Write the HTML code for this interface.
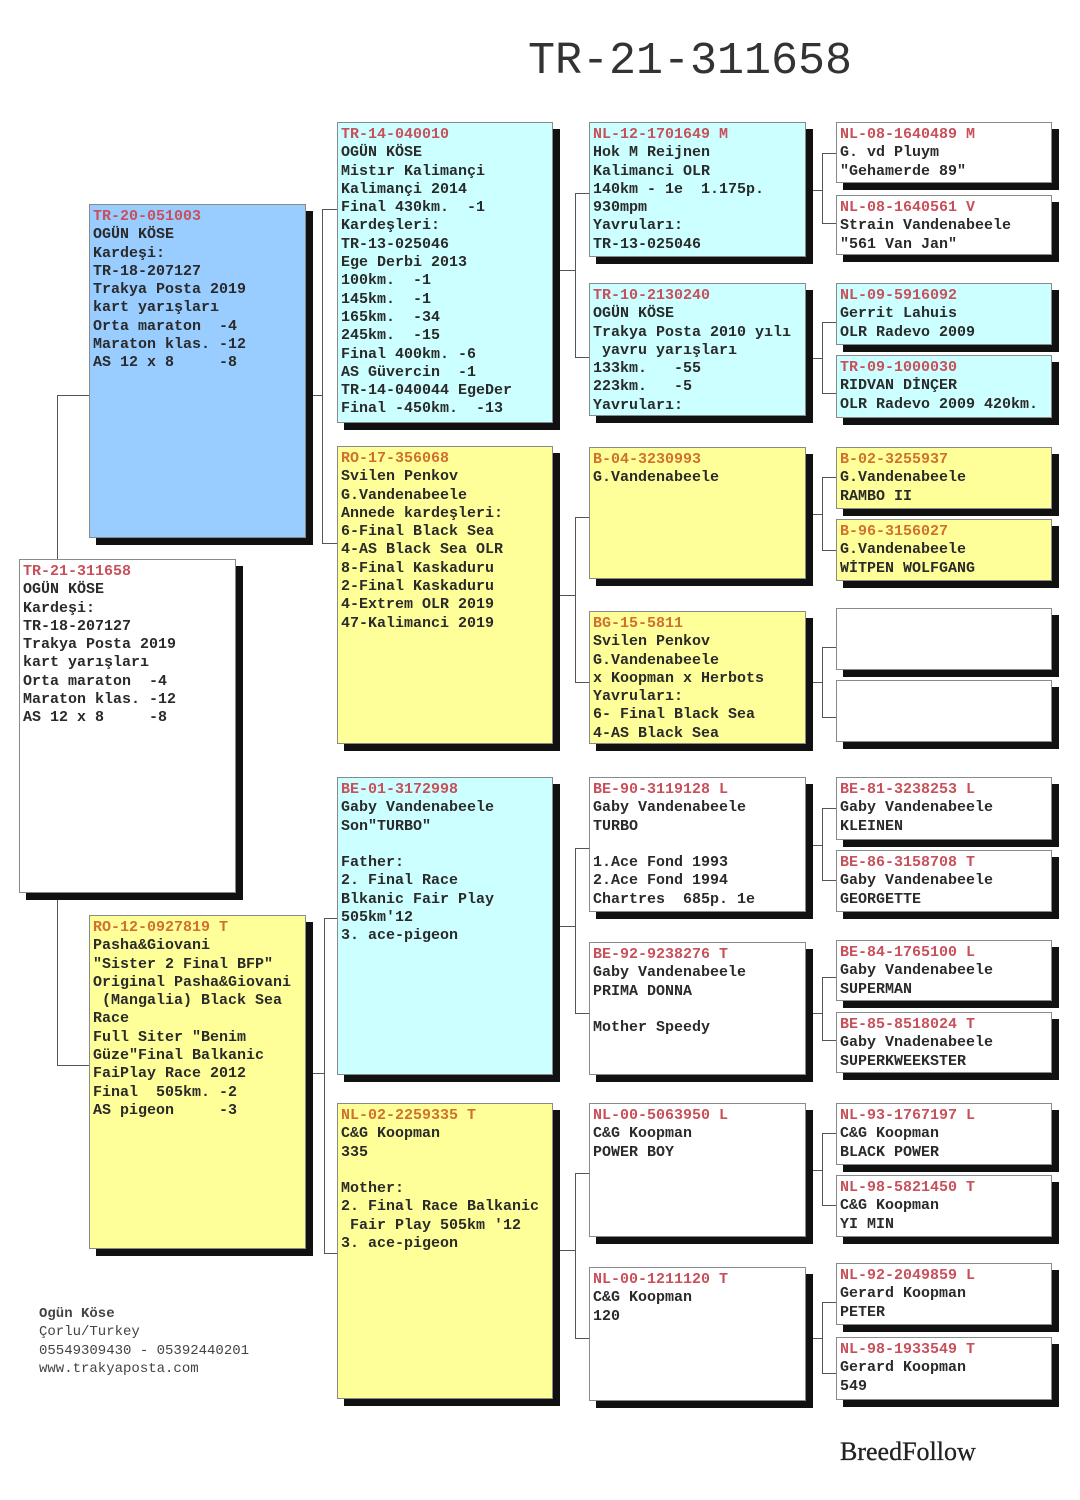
<!DOCTYPE html>
<html><head><meta charset="utf-8">
<style>
html,body{margin:0;padding:0;background:#fff;}
body{width:1080px;height:1500px;position:relative;overflow:hidden;font-family:"Liberation Mono",monospace;}
.b{position:absolute;box-sizing:border-box;border:1px solid #8a8a8a;box-shadow:7px 7px 0 #111;padding:3px 3px;font-size:15px;line-height:18.3px;color:#2a2a2a;white-space:pre;overflow:hidden;font-weight:bold;}
.b span{color:#c8505a;}
.y span{color:#d07030;}
.w{background:#fff;}
.c{background:#ccffff;}
.bl{background:#99ccff;}
.y{background:#ffff99;}
.h{position:absolute;height:0;border-top:1.5px solid #555;}
.v{position:absolute;width:0;border-left:1.5px solid #555;}
</style></head><body>
<div style="position:absolute;left:528px;top:36px;font-size:45px;color:#333;font-family:'Liberation Mono',monospace;">TR-21-311658</div>

<!-- connectors -->
<div class="v" style="left:57px;top:395px;height:670px"></div>
<div class="h" style="left:57px;top:395px;width:32px"></div>
<div class="h" style="left:57px;top:1065px;width:32px"></div>

<div class="h" style="left:305px;top:395px;width:17px"></div>
<div class="v" style="left:322px;top:209px;height:334px"></div>
<div class="h" style="left:322px;top:209px;width:15px"></div>
<div class="h" style="left:322px;top:543px;width:15px"></div>

<div class="h" style="left:305px;top:1073px;width:19px"></div>
<div class="v" style="left:324px;top:918px;height:335px"></div>
<div class="h" style="left:324px;top:918px;width:13px"></div>
<div class="h" style="left:324px;top:1253px;width:13px"></div>

<div class="h" style="left:553px;top:270px;width:22px"></div>
<div class="v" style="left:575px;top:193px;height:164px"></div>
<div class="h" style="left:575px;top:193px;width:14px"></div>
<div class="h" style="left:575px;top:357px;width:14px"></div>

<div class="h" style="left:553px;top:595px;width:22px"></div>
<div class="v" style="left:575px;top:517px;height:165px"></div>
<div class="h" style="left:575px;top:517px;width:14px"></div>
<div class="h" style="left:575px;top:682px;width:14px"></div>

<div class="h" style="left:553px;top:926px;width:22px"></div>
<div class="v" style="left:575px;top:848px;height:165px"></div>
<div class="h" style="left:575px;top:848px;width:14px"></div>
<div class="h" style="left:575px;top:1013px;width:14px"></div>

<div class="h" style="left:553px;top:1250px;width:22px"></div>
<div class="v" style="left:575px;top:1173px;height:165px"></div>
<div class="h" style="left:575px;top:1173px;width:14px"></div>
<div class="h" style="left:575px;top:1338px;width:14px"></div>

<!-- col4 -> col5 -->
<div class="h" style="left:806px;top:190px;width:16px"></div><div class="v" style="left:822px;top:153px;height:70px"></div><div class="h" style="left:822px;top:153px;width:14px"></div><div class="h" style="left:822px;top:223px;width:14px"></div>
<div class="h" style="left:806px;top:358px;width:16px"></div><div class="v" style="left:822px;top:322px;height:71px"></div><div class="h" style="left:822px;top:322px;width:14px"></div><div class="h" style="left:822px;top:393px;width:14px"></div>
<div class="h" style="left:806px;top:514px;width:16px"></div><div class="v" style="left:822px;top:477px;height:73px"></div><div class="h" style="left:822px;top:477px;width:14px"></div><div class="h" style="left:822px;top:550px;width:14px"></div>
<div class="h" style="left:806px;top:682px;width:16px"></div><div class="v" style="left:822px;top:647px;height:70px"></div><div class="h" style="left:822px;top:647px;width:14px"></div><div class="h" style="left:822px;top:717px;width:14px"></div>
<div class="h" style="left:806px;top:845px;width:16px"></div><div class="v" style="left:822px;top:808px;height:72px"></div><div class="h" style="left:822px;top:808px;width:14px"></div><div class="h" style="left:822px;top:880px;width:14px"></div>
<div class="h" style="left:806px;top:1013px;width:16px"></div><div class="v" style="left:822px;top:977px;height:63px"></div><div class="h" style="left:822px;top:977px;width:14px"></div><div class="h" style="left:822px;top:1040px;width:14px"></div>
<div class="h" style="left:806px;top:1170px;width:16px"></div><div class="v" style="left:822px;top:1133px;height:72px"></div><div class="h" style="left:822px;top:1133px;width:14px"></div><div class="h" style="left:822px;top:1205px;width:14px"></div>
<div class="h" style="left:806px;top:1338px;width:16px"></div><div class="v" style="left:822px;top:1302px;height:71px"></div><div class="h" style="left:822px;top:1302px;width:14px"></div><div class="h" style="left:822px;top:1373px;width:14px"></div>

<!-- col1 -->
<div class="b w" style="left:19px;top:559px;width:217px;height:334px"><span>TR-21-311658</span>
OGÜN KÖSE
Kardeşi:
TR-18-207127
Trakya Posta 2019
kart yarışları
Orta maraton  -4
Maraton klas. -12
AS 12 x 8     -8</div>

<!-- col2 -->
<div class="b bl" style="left:89px;top:204px;width:217px;height:334px"><span>TR-20-051003</span>
OGÜN KÖSE
Kardeşi:
TR-18-207127
Trakya Posta 2019
kart yarışları
Orta maraton  -4
Maraton klas. -12
AS 12 x 8     -8</div>
<div class="b y" style="left:89px;top:915px;width:217px;height:334px"><span>RO-12-0927819 T</span>
Pasha&amp;Giovani
"Sister 2 Final BFP"
Original Pasha&amp;Giovani
 (Mangalia) Black Sea
Race
Full Siter "Benim
Güze"Final Balkanic
FaiPlay Race 2012
Final  505km. -2
AS pigeon     -3</div>

<!-- col3 -->
<div class="b c" style="left:337px;top:122px;width:216px;height:301px"><span>TR-14-040010</span>
OGÜN KÖSE
Mistır Kalimançi
Kalimançi 2014
Final 430km.  -1
Kardeşleri:
TR-13-025046
Ege Derbi 2013
100km.  -1
145km.  -1
165km.  -34
245km.  -15
Final 400km. -6
AS Güvercin  -1
TR-14-040044 EgeDer
Final -450km.  -13</div>
<div class="b y" style="left:337px;top:446px;width:216px;height:298px"><span>RO-17-356068</span>
Svilen Penkov
G.Vandenabeele
Annede kardeşleri:
6-Final Black Sea
4-AS Black Sea OLR
8-Final Kaskaduru
2-Final Kaskaduru
4-Extrem OLR 2019
47-Kalimanci 2019</div>
<div class="b c" style="left:337px;top:777px;width:216px;height:298px"><span>BE-01-3172998</span>
Gaby Vandenabeele
Son"TURBO"

Father:
2. Final Race
Blkanic Fair Play
505km'12
3. ace-pigeon</div>
<div class="b y" style="left:337px;top:1103px;width:216px;height:296px"><span>NL-02-2259335 T</span>
C&amp;G Koopman
335

Mother:
2. Final Race Balkanic
 Fair Play 505km '12
3. ace-pigeon</div>

<!-- col4 -->
<div class="b c" style="left:589px;top:122px;width:217px;height:135px"><span>NL-12-1701649 M</span>
Hok M Reijnen
Kalimanci OLR
140km - 1e  1.175p.
930mpm
Yavruları:
TR-13-025046</div>
<div class="b c" style="left:589px;top:283px;width:217px;height:133px"><span>TR-10-2130240</span>
OGÜN KÖSE
Trakya Posta 2010 yılı
 yavru yarışları
133km.   -55
223km.   -5
Yavruları:</div>
<div class="b y" style="left:589px;top:447px;width:217px;height:132px"><span>B-04-3230993</span>
G.Vandenabeele</div>
<div class="b y" style="left:589px;top:611px;width:217px;height:133px"><span>BG-15-5811</span>
Svilen Penkov
G.Vandenabeele
x Koopman x Herbots
Yavruları:
6- Final Black Sea
4-AS Black Sea</div>
<div class="b w" style="left:589px;top:777px;width:217px;height:135px"><span>BE-90-3119128 L</span>
Gaby Vandenabeele
TURBO

1.Ace Fond 1993
2.Ace Fond 1994
Chartres  685p. 1e</div>
<div class="b w" style="left:589px;top:942px;width:217px;height:133px"><span>BE-92-9238276 T</span>
Gaby Vandenabeele
PRIMA DONNA

Mother Speedy</div>
<div class="b w" style="left:589px;top:1103px;width:217px;height:134px"><span>NL-00-5063950 L</span>
C&amp;G Koopman
POWER BOY</div>
<div class="b w" style="left:589px;top:1267px;width:217px;height:134px"><span>NL-00-1211120 T</span>
C&amp;G Koopman
120</div>

<!-- col5 -->
<div class="b w" style="left:836px;top:122px;width:216px;height:61px"><span>NL-08-1640489 M</span>
G. vd Pluym
"Gehamerde 89"</div>
<div class="b w" style="left:836px;top:195px;width:216px;height:60px"><span>NL-08-1640561 V</span>
Strain Vandenabeele
"561 Van Jan"</div>
<div class="b c" style="left:836px;top:283px;width:216px;height:62px"><span>NL-09-5916092</span>
Gerrit Lahuis
OLR Radevo 2009</div>
<div class="b c" style="left:836px;top:355px;width:216px;height:63px"><span>TR-09-1000030</span>
RIDVAN DİNÇER
OLR Radevo 2009 420km.</div>
<div class="b y" style="left:836px;top:447px;width:216px;height:62px"><span>B-02-3255937</span>
G.Vandenabeele
RAMBO II</div>
<div class="b y" style="left:836px;top:519px;width:216px;height:62px"><span>B-96-3156027</span>
G.Vandenabeele
WİTPEN WOLFGANG</div>
<div class="b w" style="left:836px;top:608px;width:216px;height:62px"></div>
<div class="b w" style="left:836px;top:680px;width:216px;height:62px"></div>
<div class="b w" style="left:836px;top:777px;width:216px;height:63px"><span>BE-81-3238253 L</span>
Gaby Vandenabeele
KLEINEN</div>
<div class="b w" style="left:836px;top:850px;width:216px;height:62px"><span>BE-86-3158708 T</span>
Gaby Vandenabeele
GEORGETTE</div>
<div class="b w" style="left:836px;top:940px;width:216px;height:61px"><span>BE-84-1765100 L</span>
Gaby Vandenabeele
SUPERMAN</div>
<div class="b w" style="left:836px;top:1012px;width:216px;height:61px"><span>BE-85-8518024 T</span>
Gaby Vnadenabeele
SUPERKWEEKSTER</div>
<div class="b w" style="left:836px;top:1103px;width:216px;height:62px"><span>NL-93-1767197 L</span>
C&amp;G Koopman
BLACK POWER</div>
<div class="b w" style="left:836px;top:1175px;width:216px;height:62px"><span>NL-98-5821450 T</span>
C&amp;G Koopman
YI MIN</div>
<div class="b w" style="left:836px;top:1263px;width:216px;height:62px"><span>NL-92-2049859 L</span>
Gerard Koopman
PETER</div>
<div class="b w" style="left:836px;top:1337px;width:216px;height:63px"><span>NL-98-1933549 T</span>
Gerard Koopman
549</div>

<div style="position:absolute;left:39px;top:1305px;font-size:14px;line-height:18.3px;color:#444;white-space:pre;font-family:'Liberation Mono',monospace;"><b>Ogün Köse</b>
Çorlu/Turkey
05549309430 - 05392440201
www.trakyaposta.com</div>

<div style="position:absolute;left:840px;top:1437px;font-size:26px;color:#222;font-family:'Liberation Serif',serif;-webkit-text-stroke:0.3px #222;">BreedFollow</div>
</body></html>
